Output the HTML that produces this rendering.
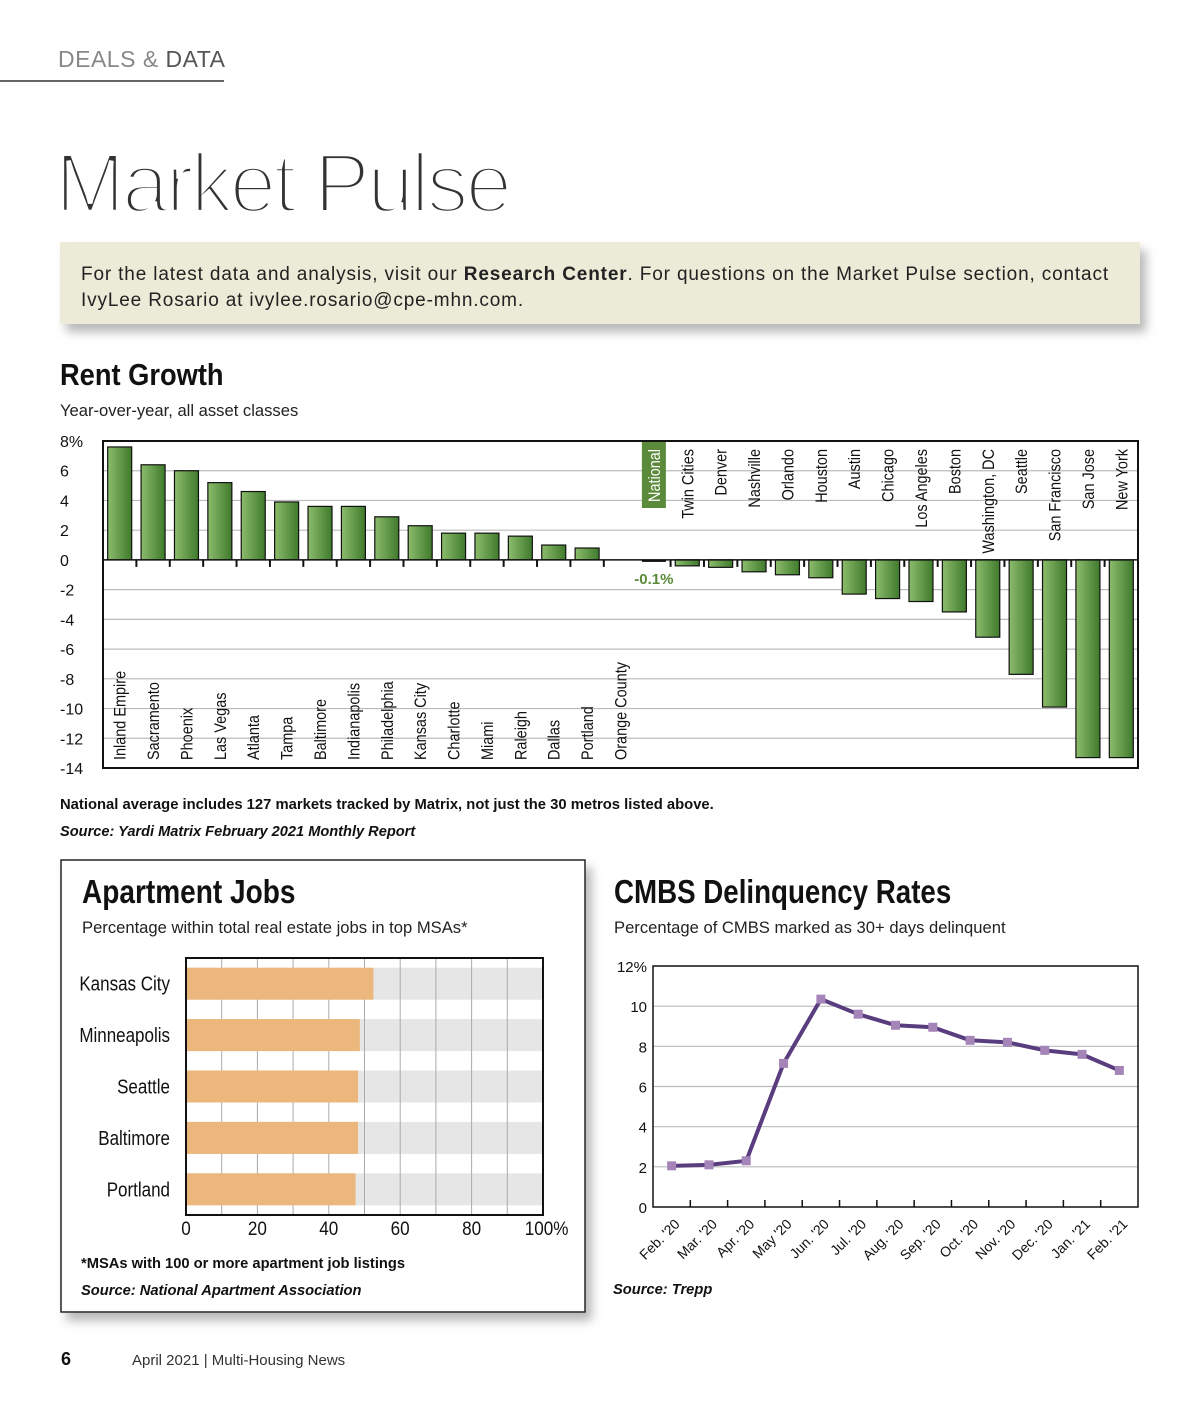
<!DOCTYPE html>
<html><head><meta charset="utf-8"><style>
body{margin:0;width:1200px;height:1400px;background:#fff;font-family:"Liberation Sans",sans-serif;overflow:hidden}
svg text{font-family:"Liberation Sans",sans-serif}
.cond{font-family:"Liberation Sans Narrow","Liberation Sans",sans-serif}
</style></head><body>
<svg id="s" width="1200" height="1400" viewBox="0 0 1200 1400">
<defs>
<linearGradient id="gg" x1="0" x2="1" y1="0" y2="0"><stop offset="0" stop-color="#8cbc6c"/><stop offset="1" stop-color="#3f7a2c"/></linearGradient>
<filter id="sh" x="-5%" y="-5%" width="115%" height="130%"><feDropShadow dx="6" dy="8" stdDeviation="5" flood-color="#888" flood-opacity="0.6"/></filter>
</defs>
<text x="58" y="67" font-size="23" fill="#555" letter-spacing="0.5"><tspan fill="#888">DEALS &amp; </tspan>DATA</text>
<line x1="0" y1="81" x2="224" y2="81" stroke="#333" stroke-width="1.5"/>
<text x="55" y="212" font-size="84" fill="#333" stroke="#fff" stroke-width="4.5" letter-spacing="-3">Market Pulse</text>
<rect x="60" y="242" width="1080" height="82" fill="#ebebd8" filter="url(#sh)"/>
<text x="81" y="280" font-size="19" letter-spacing="0.85" fill="#222">For the latest data and analysis, visit our <tspan font-weight="bold">Research Center</tspan>. For questions on the Market Pulse section, contact</text>
<text x="81" y="306" font-size="19" letter-spacing="0.85" fill="#222">IvyLee Rosario at ivylee.rosario@cpe-mhn.com.</text>

<text x="60" y="385" font-size="31" font-weight="bold" class="cond" fill="#111" transform="translate(60 0) scale(0.88 1) translate(-60 0)">Rent Growth</text>
<text x="60" y="416" font-size="16.6" fill="#222">Year-over-year, all asset classes</text>
<g id="rent"></g>
<text x="60" y="809" font-size="14.8" font-weight="bold" fill="#111">National average includes 127 markets tracked by Matrix, not just the 30 metros listed above.</text>
<text x="60" y="836" font-size="14.6" font-weight="bold" font-style="italic" fill="#111">Source: Yardi Matrix February 2021 Monthly Report</text>

<rect x="61" y="860" width="524" height="452" fill="#fff" stroke="#222" stroke-width="1.5" filter="url(#sh)"/>
<text x="82" y="903" font-size="33" font-weight="bold" fill="#111" transform="translate(82 0) scale(0.85 1) translate(-82 0)">Apartment Jobs</text>
<text x="82" y="933" font-size="16.6" fill="#222">Percentage within total real estate jobs in top MSAs*</text>
<g id="jobs"></g>
<text x="81" y="1268" font-size="14.7" font-weight="bold" fill="#111">*MSAs with 100 or more apartment job listings</text>
<text x="81" y="1295" font-size="14.7" font-weight="bold" font-style="italic" fill="#111">Source: National Apartment Association</text>

<text x="614" y="903" font-size="33" font-weight="bold" fill="#111" transform="translate(614 0) scale(0.84 1) translate(-614 0)">CMBS Delinquency Rates</text>
<text x="614" y="933" font-size="16.6" fill="#222">Percentage of CMBS marked as 30+ days delinquent</text>
<g id="cmbs"></g>
<text x="613" y="1294" font-size="14.7" font-weight="bold" font-style="italic" fill="#111">Source: Trepp</text>

<text x="61" y="1365" font-size="18" font-weight="bold" fill="#111">6</text>
<text x="132" y="1365" font-size="15" fill="#333">April 2021  |  Multi-Housing News</text>
</svg>
<script>
const rentCats=["Inland Empire","Sacramento","Phoenix","Las Vegas","Atlanta","Tampa","Baltimore","Indianapolis","Philadelphia","Kansas City","Charlotte","Miami","Raleigh","Dallas","Portland","Orange County","National","Twin Cities","Denver","Nashville","Orlando","Houston","Austin","Chicago","Los Angeles","Boston","Washington, DC","Seattle","San Francisco","San Jose","New York"];
const rentVals=[7.6,6.4,6.0,5.2,4.6,3.9,3.6,3.6,2.9,2.3,1.8,1.8,1.6,1.0,0.8,0.0,-0.1,-0.4,-0.5,-0.8,-1.0,-1.2,-2.3,-2.6,-2.8,-3.5,-5.2,-7.7,-9.9,-13.3,-13.3];
const rentTicks=[8,6,4,2,0,-2,-4,-6,-8,-10,-12,-14];
const jobsCats=["Kansas City","Minneapolis","Seattle","Baltimore","Portland"];
const jobsVals=[52.5,48.7,48.2,48.2,47.5];
const jobsTicks=[0,20,40,60,80,100];
const cmbsCats=["Feb. '20","Mar. '20","Apr. '20","May '20","Jun. '20","Jul. '20","Aug. '20","Sep. '20","Oct. '20","Nov. '20","Dec. '20","Jan. '21","Feb. '21"];
const cmbsVals=[2.05,2.1,2.3,7.15,10.35,9.6,9.05,8.95,8.3,8.2,7.8,7.6,6.8];
const cmbsTicks=[0,2,4,6,8,10,12];
const NS="http://www.w3.org/2000/svg";
function mk(p,t,a){const e=document.createElementNS(NS,t);for(const k in a)e.setAttribute(k,a[k]);p.appendChild(e);return e;}

// Rent growth
(function(){
const g=document.getElementById('rent');
const L=103,R=1138,T=441,B=768,ymax=8,ymin=-14;
const y=v=>T+(ymax-v)/(ymax-ymin)*(B-T);
const n=rentCats.length,step=(R-L)/n,x=i=>L+step*(i+0.5);
rentTicks.forEach(t=>{
  if(t!==ymax&&t!==ymin){const l=mk(g,'line',{x1:L,x2:R,y1:y(t),y2:y(t),stroke:'#bbb','stroke-width':1.2});
  
  }
  const tx=mk(g,'text',{x:60,y:y(t)+6,'font-size':16,fill:'#111'});tx.textContent=t===8?'8%':t;
  
  
});
const bw=24;
rentVals.forEach((v,i)=>{
  const cx=x(i),y0=y(0),yv=y(v);
  if(i!==16){const tk=mk(g,'line',{x1:L+step*i,x2:L+step*i,y1:y0,y2:y0+7,stroke:'#111','stroke-width':2});
  
  }
  if(i===16){
    const r=mk(g,'rect',{x:cx-bw/2,y:y0,width:bw,height:Math.max(2,yv-y0),fill:'#111'});
    
    
    const lab=mk(g,'text',{x:cx,y:y0+24,'font-size':15,'font-weight':'bold',fill:'#5b8a3a','text-anchor':'middle'});lab.textContent=v+'%';
    
    
  } else if(Math.abs(v)>0.01){
    const r=mk(g,'rect',{x:cx-bw/2,y:Math.min(y0,yv),width:bw,height:Math.abs(yv-y0),fill:'url(#gg)',stroke:'#111','stroke-width':1.2});
    
    
  }
  let t;
  if(v>=0&&i!==16){
    t=mk(g,'text',{transform:`translate(${cx+6},${B-8}) rotate(-90) scale(0.85 1)`,'font-size':17,fill:'#111'});
  } else {
    if(i===16) mk(g,'rect',{x:cx-12,y:T+1,width:24,height:66,fill:'#5b8a3a'});
    t=mk(g,'text',{transform:`translate(${cx+6},${T+8}) rotate(-90) scale(0.85 1)`,'font-size':17,fill:i===16?'#fff':'#111','text-anchor':'end'});
  }
  t.textContent=rentCats[i];
  
  
});
const z=mk(g,'line',{x1:L,x2:R,y1:y(0),y2:y(0),stroke:'#111','stroke-width':1.5});


const f=mk(g,'rect',{x:L,y:T,width:R-L,height:B-T,fill:'none',stroke:'#111','stroke-width':2});


})();

// Jobs
(function(){
const g=document.getElementById('jobs');
const L=186,R=543,T=958,B=1215;
const x=v=>L+v/100*(R-L);
const rowH=(B-T)/jobsCats.length;
jobsCats.forEach((c,i)=>{
  const yc=T+rowH*(i+0.5),h=32;
  const bg=mk(g,'rect',{x:L,y:yc-h/2,width:R-L,height:h,fill:'#e6e6e6'});
  
  
});
for(let v=10;v<100;v+=10){const l=mk(g,'line',{x1:x(v),x2:x(v),y1:T,y2:B,stroke:'#aaa','stroke-width':1});

}
jobsCats.forEach((c,i)=>{
  const yc=T+rowH*(i+0.5),h=32;
  const r=mk(g,'rect',{x:L,y:yc-h/2,width:x(jobsVals[i])-L,height:h,fill:'#ebb77c'});
  
  
  const t=mk(g,'text',{x:170,y:yc+7,'font-size':20,fill:'#111','text-anchor':'end',transform:`translate(170 0) scale(0.85 1) translate(-170 0)`});t.textContent=c;
  
  
});
jobsTicks.forEach(v=>{const t=mk(g,'text',{x:x(v)+(v===100?4:0),y:B+20,'font-size':19,fill:'#111','text-anchor':'middle',transform:`translate(${x(v)} 0) scale(0.9 1) translate(${-x(v)} 0)`});t.textContent=v===100?'100%':v;

});
const f=mk(g,'rect',{x:L,y:T,width:R-L,height:B-T,fill:'none',stroke:'#111','stroke-width':2});


})();

// CMBS
(function(){
const g=document.getElementById('cmbs');
const L=653,R=1138,T=966,B=1207;
const y=v=>B-v/12*(B-T);
const n=cmbsCats.length,step=(R-L)/n,x=i=>L+step*(i+0.5);
cmbsTicks.forEach(t=>{
  if(t>0&&t<12){const l=mk(g,'line',{x1:L,x2:R,y1:y(t),y2:y(t),stroke:'#bbb','stroke-width':1.2});
  
  }
  const tx=mk(g,'text',{x:647,y:y(t)+6,'font-size':15,fill:'#111','text-anchor':'end'});tx.textContent=t===12?'12%':t;
  
  
});
for(let i=1;i<n;i++){const tk=mk(g,'line',{x1:L+step*i,x2:L+step*i,y1:B,y2:B-7,stroke:'#111','stroke-width':1.5});

}
const f=mk(g,'rect',{x:L,y:T,width:R-L,height:B-T,fill:'none',stroke:'#111','stroke-width':1.5});


const pts=cmbsVals.map((v,i)=>x(i)+','+y(v)).join(' ');
const pl=mk(g,'polyline',{points:pts,fill:'none',stroke:'#5a3d7e','stroke-width':4,'stroke-linejoin':'round'});


cmbsVals.forEach((v,i)=>{
  const m=mk(g,'rect',{x:x(i)-4.5,y:y(v)-4.5,width:9,height:9,fill:'#a584b8'});
  
  
  const t=mk(g,'text',{transform:`translate(${x(i)+9},${B+18}) rotate(-45)`,'font-size':14,fill:'#111','text-anchor':'end'});t.textContent=cmbsCats[i];
  
  
});
})();
</script>
</body></html>
